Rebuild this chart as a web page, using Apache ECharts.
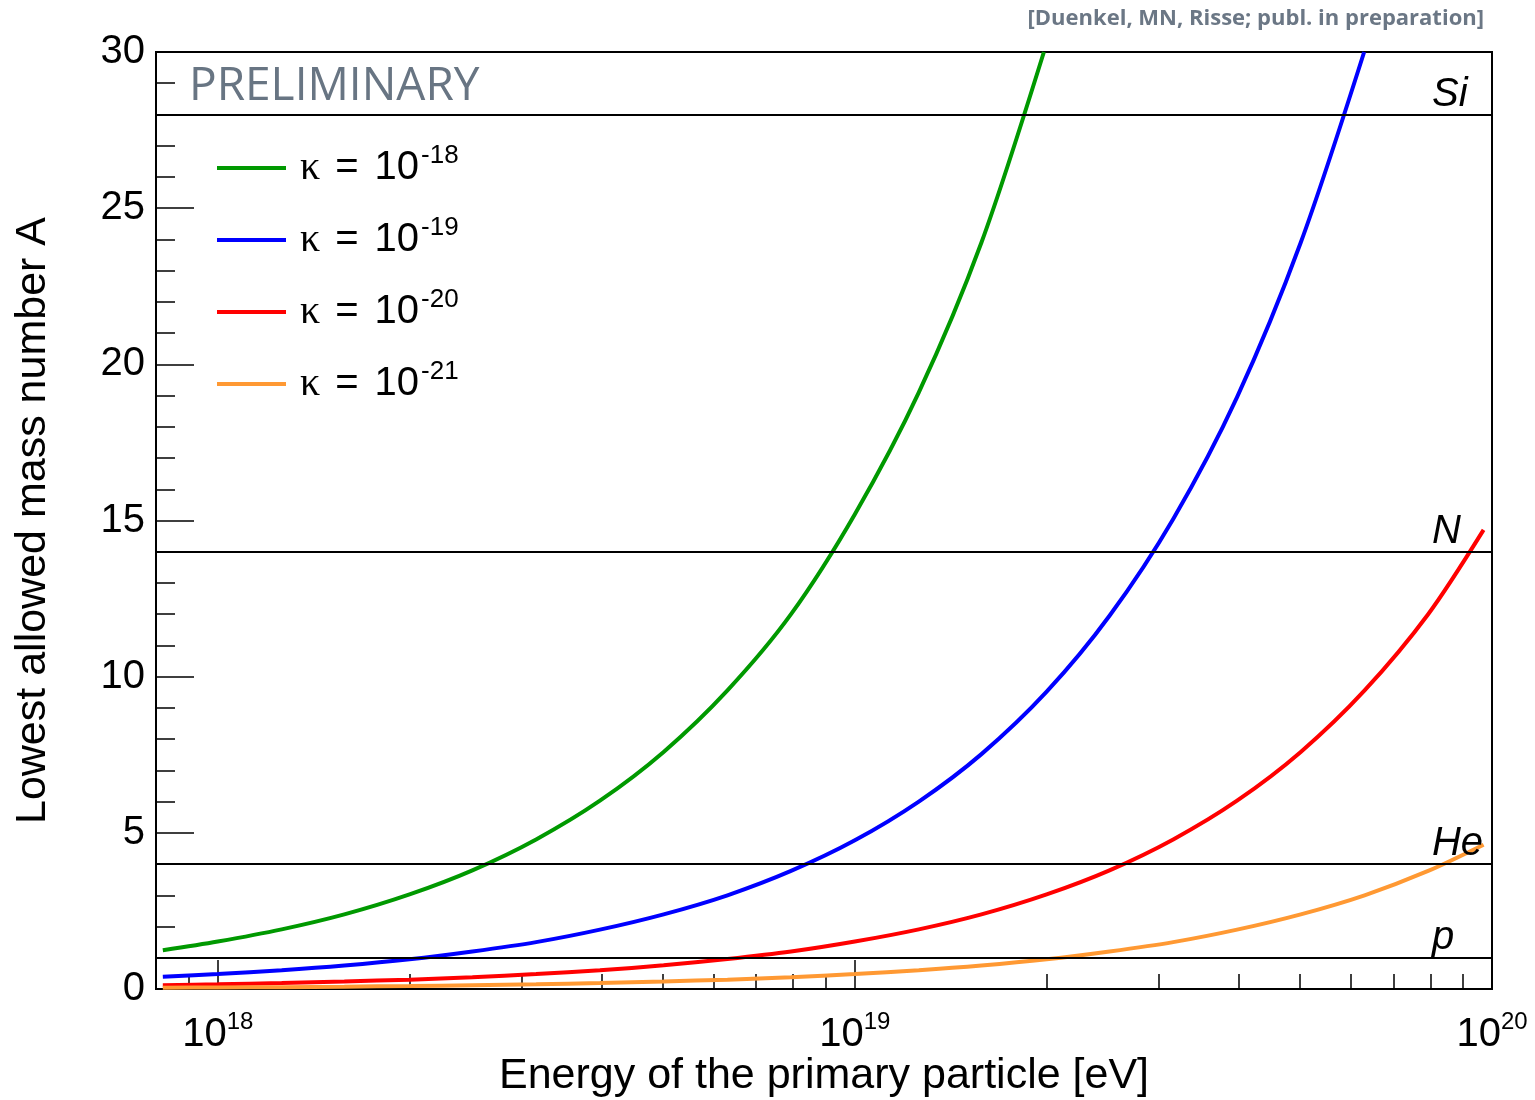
<!DOCTYPE html>
<html>
<head>
<meta charset="utf-8">
<script src="https://cdn.jsdelivr.net/npm/echarts@6/dist/echarts.min.js"></script>
<style>
html,body{margin:0;padding:0;background:#fff;}
#chart{width:1535px;height:1100px;}
</style>
</head>
<body>
<div id="chart"></div>
<script>
// ---- data ----
const kappaExponents = ['-18', '-19', '-20', '-21'];
const seriesColors = ['#009900', '#0000ff', '#ff0000', '#ff9933'];

const greenE = [8.2e17, 1e18, 1.26e18, 1.58e18, 2e18, 2.51e18, 3.16e18, 3.98e18, 5.01e18, 6.31e18, 7.94e18, 1e19, 1.26e19, 1.58e19, 1.98e19];
const greenA = [1.24, 1.52, 1.91, 2.39, 3.03, 3.80, 4.79, 6.03, 7.59, 9.56, 12.0, 15.2, 19.1, 23.9, 30];

const blueE = [8.2e17, 1e18, 1.26e18, 1.58e18, 2e18, 2.51e18, 3.16e18, 3.98e18, 5.01e18, 6.31e18, 7.94e18, 1e19, 1.26e19, 1.58e19, 2e19, 2.51e19, 3.16e19, 3.98e19, 5.01e19, 6.3e19];
const blueA = [0.39, 0.48, 0.60, 0.75, 0.95, 1.20, 1.50, 1.90, 2.39, 3.0, 3.78, 4.76, 6.0, 7.52, 9.52, 11.95, 15.05, 18.95, 23.9, 30];

const redE = [8.2e17, 1e18, 1.26e18, 1.58e18, 2e18, 2.51e18, 3.16e18, 3.98e18, 5.01e18, 6.31e18, 7.94e18, 1e19, 1.26e19, 1.58e19, 2e19, 2.51e19, 3.16e19, 3.98e19, 5.01e19, 6.31e19, 7.94e19, 9.7e19];
const redA = [0.12, 0.15, 0.19, 0.24, 0.30, 0.38, 0.48, 0.60, 0.76, 0.96, 1.20, 1.52, 1.91, 2.39, 3.03, 3.80, 4.79, 6.03, 7.59, 9.56, 12.0, 14.7];

const orangeE = [8.2e17, 1e18, 1.26e18, 1.58e18, 2e18, 2.51e18, 3.16e18, 3.98e18, 5.01e18, 6.31e18, 7.94e18, 1e19, 1.26e19, 1.58e19, 2e19, 2.51e19, 3.16e19, 3.98e19, 5.01e19, 6.31e19, 7.94e19, 9.7e19];
const orangeA = [0.04, 0.048, 0.06, 0.075, 0.095, 0.12, 0.15, 0.19, 0.24, 0.30, 0.38, 0.48, 0.60, 0.75, 0.95, 1.20, 1.50, 1.90, 2.39, 3.0, 3.78, 4.62];

const levelValues = [1, 4, 14, 28];
const levelNames = ['p', 'He', 'N', 'Si'];

const xMajorTicks = [1e18, 1e19, 1e20];
const xMinorTicks = [9e17, 2e18, 3e18, 4e18, 5e18, 6e18, 7e18, 8e18, 9e18, 2e19, 3e19, 4e19, 5e19, 6e19, 7e19, 8e19, 9e19];
const yTickLabels = [0, 5, 10, 15, 20, 25, 30];

// ---- chart ----
const zip = (xs, ys) => xs.map((x, i) => [x, ys[i]]);
const curves = [zip(greenE, greenA), zip(blueE, blueA), zip(redE, redA), zip(orangeE, orangeA)];
const seriesNames = kappaExponents.map(e => 'κ = 10^' + e);

const FONT = 'Liberation Sans, Arial, Helvetica, sans-serif';
const chart = echarts.init(document.getElementById('chart'), null, {renderer: 'canvas'});

const lineSeries = curves.map((d, i) => ({
  name: seriesNames[i],
  type: 'line',
  data: d,
  showSymbol: false,
  symbol: 'none',
  smooth: 0.3,
  color: seriesColors[i],
  lineStyle: {width: 4, color: seriesColors[i]},
  z: 3
}));

const option = {
  animation: false,
  backgroundColor: '#ffffff',
  grid: {
    left: 156, right: 43, top: 52, bottom: 111,
    show: true, borderColor: '#000', borderWidth: 2, backgroundColor: 'transparent',
    containLabel: false, outerBoundsMode: 'none'
  },
  legend: {
    orient: 'vertical',
    left: 217, top: 143,
    padding: 0,
    itemWidth: 69, itemHeight: 4, itemGap: 27,
    icon: 'rect',
    selectedMode: false,
    data: seriesNames,
    formatter: function (name) {
      const i = seriesNames.indexOf(name);
      return '{k|κ}{e|=}{t|10}{s|' + kappaExponents[i] + '}';
    },
    textStyle: {
      padding: [0, 0, 0, 9],
      rich: {
        k: {fontFamily: 'Liberation Serif, DejaVu Serif, serif', fontSize: 40, color: '#000', lineHeight: 50},
        e: {fontFamily: FONT, fontSize: 40, color: '#000', lineHeight: 50, padding: [0, 0, 0, 15]},
        t: {fontFamily: FONT, fontSize: 40, color: '#000', lineHeight: 50, padding: [0, 0, 0, 16]},
        s: {fontFamily: FONT, fontSize: 26, color: '#000', lineHeight: 22, verticalAlign: 'top', padding: [0, 0, 0, 2]}
      }
    }
  },
  xAxis: [{
    type: 'log', logBase: 10, min: 8e17, max: 1e20,
    position: 'bottom',
    name: 'Energy of the primary particle [eV]',
    nameLocation: 'middle', nameGap: 66, nameMoveOverlap: false,
    nameTextStyle: {fontFamily: FONT, fontSize: 43, color: '#000'},
    axisLine: {show: true, lineStyle: {color: '#000', width: 2}},
    axisTick: {show: true, inside: true, length: 29, customValues: xMajorTicks, lineStyle: {color: '#000', width: 1.5}},
    minorTick: {show: false},
    splitLine: {show: false},
    axisLabel: {
      show: true, customValues: xMajorTicks, margin: 21,
      formatter: function (v) { return '{b|10}{s|' + Math.round(Math.log10(v)) + '}'; },
      rich: {
        b: {fontFamily: FONT, fontSize: 40, color: '#000', lineHeight: 50},
        s: {fontFamily: FONT, fontSize: 24, color: '#000', lineHeight: 22, verticalAlign: 'top'}
      }
    }
  }, {
    type: 'log', logBase: 10, min: 8e17, max: 1e20,
    position: 'bottom', gridIndex: 0,
    axisLine: {show: false},
    axisTick: {show: true, inside: true, length: 15, customValues: xMinorTicks, lineStyle: {color: '#000', width: 1.5}},
    axisLabel: {show: false},
    splitLine: {show: false}
  }],
  yAxis: {
    type: 'value', min: 0, max: 30, interval: 5,
    name: 'Lowest allowed mass number A',
    nameLocation: 'middle', nameGap: 101, nameMoveOverlap: false,
    nameTextStyle: {fontFamily: FONT, fontSize: 43, color: '#000'},
    axisLine: {show: true, lineStyle: {color: '#000', width: 2}},
    axisTick: {show: true, inside: true, length: 38, lineStyle: {color: '#000', width: 1.5}},
    minorTick: {show: true, splitNumber: 5, length: 19, lineStyle: {color: '#000', width: 1.5}},
    splitLine: {show: false},
    minorSplitLine: {show: false},
    axisLabel: {
      fontFamily: FONT, fontSize: 40, color: '#000', margin: 11,
      customValues: yTickLabels
    }
  },
  graphic: [{
    type: 'text', left: 189, top: 64, z: 10,
    style: {text: 'PRELIMINARY', fontFamily: 'Open Sans, sans-serif', fontSize: 46, fill: '#687583'}
  }, {
    type: 'text', right: 51, top: 8, z: 10,
    style: {text: '[Duenkel, MN, Risse; publ. in preparation]', fontFamily: 'Open Sans, sans-serif', fontWeight: 'bold', fontSize: 22, fill: '#6b7785'}
  }],
  series: lineSeries.concat([{
    name: 'levels',
    type: 'scatter',
    symbolSize: 0,
    silent: true,
    z: 4,
    itemStyle: {opacity: 1},
    data: levelValues.map((v, i) => ({value: [8.05e19, v], name: levelNames[i]})),
    label: {
      show: true,
      position: [0, 0],
      align: 'left', verticalAlign: 'bottom',
      formatter: p => p.name,
      fontFamily: FONT, fontStyle: 'italic', fontSize: 40, color: '#000000', opacity: 1
    },
    markLine: {
      silent: true, symbol: 'none',
      label: {show: false},
      lineStyle: {color: '#000', width: 2, type: 'solid'},
      data: levelValues.map(v => ({yAxis: v}))
    }
  }])
};
chart.setOption(option);
</script>
</body>
</html>
